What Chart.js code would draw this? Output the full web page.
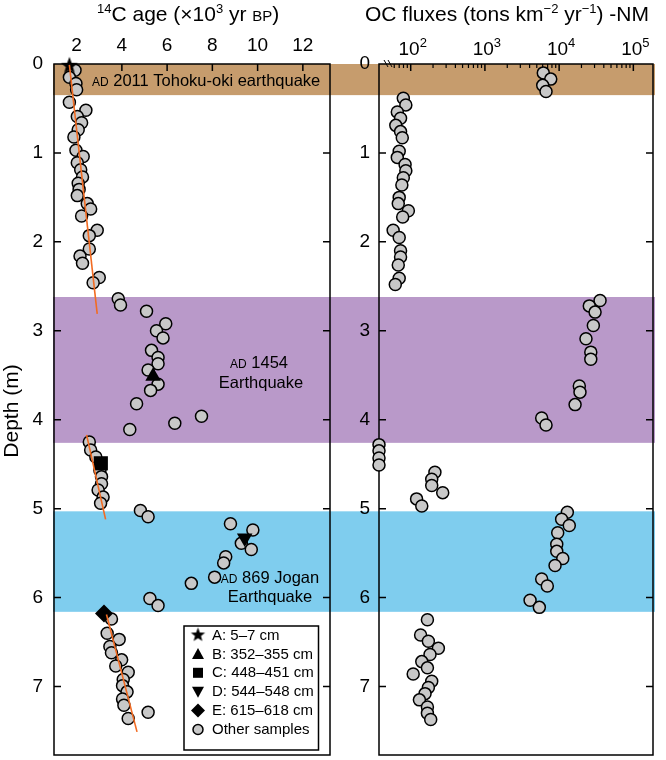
<!DOCTYPE html>
<html>
<head>
<meta charset="utf-8">
<script src="https://cdn.jsdelivr.net/npm/chart.js@4.4.1/dist/chart.umd.min.js"></script>
<style>
  html, body { margin: 0; padding: 0; background: #fff; }
  #wrap { position: relative; width: 666px; height: 760px; }
  #wrap canvas { position: absolute; left: 0; top: 0; }
</style>
</head>
<body>
<div id="wrap">
  <canvas id="ageChart" width="666" height="760"></canvas>
  <canvas id="fluxChart" width="666" height="760"></canvas>
</div>
<script>
// ---- data ----
// left panel: 14C age (x10^3 yr BP) of the other samples vs depth (m)
const ageDepths = [0.07, 0.15, 0.22, 0.29, 0.43, 0.52, 0.59, 0.66, 0.74, 0.82, 0.97, 1.04, 1.11, 1.19, 1.27,
  1.34, 1.41, 1.48, 1.57, 1.63, 1.71, 1.87, 1.93, 2.08, 2.16, 2.24, 2.40, 2.46, 2.64, 2.71, 2.78, 2.92, 3.00,
  3.08, 3.22, 3.30, 3.37, 3.44, 3.60, 3.67, 3.82, 3.96, 4.04, 4.11, 4.25, 4.34, 4.42, 4.57, 4.64, 4.72, 4.79,
  4.87, 4.94, 5.02, 5.09, 5.17, 5.24, 5.39, 5.46, 5.54, 5.61, 5.77, 5.84, 6.01, 6.09, 6.24, 6.40, 6.47, 6.55,
  6.62, 6.70, 6.77, 6.84, 6.92, 6.99, 7.06, 7.14, 7.21, 7.29, 7.36];
const ages = [1.93, 1.68, 1.97, 2.00, 1.68, 2.41, 2.03, 2.22, 2.07, 1.88, 1.97, 2.29, 2.03, 2.18, 2.26,
  2.07, 2.11, 2.03, 2.47, 2.62, 2.22, 2.91, 2.56, 2.56, 2.15, 2.26, 3.00, 2.73, 3.84, 3.94, 5.09, 5.94, 5.53,
  5.82, 5.31, 5.60, 5.60, 5.16, 5.60, 5.27, 4.65, 7.52, 6.34, 4.35, 2.56, 2.62, 2.85, 3.03, 3.10, 3.10, 2.95,
  3.17, 3.06, 4.82, 5.16, 8.80, 9.79, 9.28, 9.72, 8.59, 8.50, 8.10, 7.07, 5.24, 5.60, 3.54, 3.35, 3.88, 3.47,
  3.54, 3.99, 3.73, 4.28, 4.06, 4.03, 4.23, 4.03, 4.09, 5.16, 4.28];

// dated samples A-E
const sampleLabels = ['A: 5\u20137 cm', 'B: 352\u2013355 cm', 'C: 448\u2013451 cm', 'D: 544\u2013548 cm', 'E: 615\u2013618 cm'];
const sampleAges = [1.68, 5.38, 3.07, 9.43, 3.21];
const sampleDepths = [0.02, 3.51, 4.49, 5.33, 6.18];
const otherLabel = 'Other samples';

// orange age-depth trend segments
const trendAges = [[1.68, 2.91], [2.44, 3.28], [3.32, 4.67]];
const trendDepths = [[0.01, 2.81], [4.17, 5.12], [6.19, 7.51]];

// right panel: OC fluxes (tons km-2 yr-1) vs depth (m)
const fluxAxisMin = 37.4;   // samples below the axis range sit on the axis
const fluxDepths = [0.10, 0.17, 0.24, 0.31, 0.385, 0.46, 0.54, 0.61, 0.69, 0.76, 0.83, 0.98, 1.05, 1.13, 1.20,
  1.28, 1.36, 1.50, 1.57, 1.65, 1.72, 1.87, 1.95, 2.10, 2.17, 2.26, 2.41, 2.48, 2.66, 2.72, 2.79, 2.94, 3.09,
  3.24, 3.32, 3.62, 3.69, 3.83, 3.98, 4.06, 4.28, 4.35, 4.43, 4.51, 4.59, 4.67, 4.74, 4.82, 4.89, 4.97, 5.04,
  5.12, 5.19, 5.27, 5.40, 5.48, 5.56, 5.64, 5.79, 5.87, 6.03, 6.11, 6.25, 6.42, 6.49, 6.57, 6.64, 6.72, 6.79,
  6.86, 6.94, 7.01, 7.08, 7.15, 7.23, 7.30, 7.37];
const fluxes = [6120, 7710, 6010, 6660, 79.5, 86, 66, 73, 63, 73, 77, 70, 66, 84, 86,
  79.5, 76, 70, 68, 93, 78, 58, 70, 73, 73, 68, 70, 62, 35600, 25500, 30500, 28900, 23000,
  26700, 26700, 18700, 19100, 16400, 5820, 6660, fluxAxisMin, fluxAxisMin, fluxAxisMin, fluxAxisMin, 212, 192, 192, 270, 120, 141, 12900,
  10800, 13700, 9570, 9290, 9290, 11200, 8810, 5820, 6930, 4060, 5410, 168, 136, 173, 236, 182, 141, 168,
  108, 192, 173, 156, 131, 168, 168, 186];

// earthquake layers (depth, m)
const bandTops = [0, 2.62, 5.03];
const bandBottoms = [0.35, 4.26, 6.16];
const bandColors = ['#c69c6d', '#b999c9', '#7fcdee'];

// ticks
const depthTicks = [0, 1, 2, 3, 4, 5, 6, 7];
const ageTicks = [2, 4, 6, 8, 10, 12];
const fluxMajorTicks = [1e2, 1e3, 1e4, 1e5];
const fluxExponents = ['2', '3', '4', '5'];
const fluxMinorTicks = [60, 70, 80, 90, 200, 300, 400, 500, 600, 700, 800, 900, 2000, 3000, 4000, 5000, 6000,
  7000, 8000, 9000, 20000, 30000, 40000, 50000, 60000, 70000, 80000, 90000];

// ---- helpers ----
const FONT = "'Liberation Sans', Arial, Helvetica, sans-serif";
Chart.defaults.font.family = FONT;
Chart.defaults.color = '#000';

function drawRich(ctx, x, y, segs, align) {
  let total = 0;
  segs.forEach(s => { ctx.font = s[1] + 'px ' + FONT; total += ctx.measureText(s[0]).width; });
  let cx = align === 'center' ? x - total / 2 : x;
  ctx.textAlign = 'left';
  ctx.textBaseline = 'alphabetic';
  segs.forEach(s => {
    ctx.font = s[1] + 'px ' + FONT;
    ctx.fillText(s[0], cx, y - (s[2] || 0));
    cx += ctx.measureText(s[0]).width;
  });
}

function makeStar(r) {
  const c = document.createElement('canvas');
  c.width = c.height = 2 * r + 2;
  const g = c.getContext('2d');
  g.beginPath();
  for (let i = 0; i < 10; i++) {
    const rad = i % 2 ? r * 0.42 : r;
    const ang = -Math.PI / 2 + i * Math.PI / 5;
    g.lineTo(r + 1 + rad * Math.cos(ang), r + 1 + rad * Math.sin(ang));
  }
  g.closePath();
  g.fillStyle = '#000';
  g.fill();
  return c;
}
const starImg = makeStar(9);
const legendStar = makeStar(7.5);

// keep the plot boxes exactly where the figure has them
function fixWidth(w) {
  return s => { s.width = w; s.paddingTop = 0; s.paddingBottom = 0; s.paddingLeft = 0; s.paddingRight = 0; };
}
function fixHeight(h) {
  return s => { s.height = h; s.paddingTop = 0; s.paddingBottom = 0; s.paddingLeft = 0; s.paddingRight = 0; };
}

function drawFrame(chart) {
  const ctx = chart.ctx, a = chart.chartArea;
  ctx.save();
  ctx.strokeStyle = '#000';
  ctx.lineWidth = 1.5;
  ctx.strokeRect(a.left, a.top, a.right - a.left, a.bottom - a.top);
  // inward depth ticks on both sides
  const ys = chart.scales.y;
  ctx.beginPath();
  depthTicks.forEach(v => {
    const py = ys.getPixelForValue(v);
    if (v > 0) {
      ctx.moveTo(a.left, py); ctx.lineTo(a.left + 7, py);
      ctx.moveTo(a.right, py); ctx.lineTo(a.right - 7, py);
    }
  });
  ctx.stroke();
  ctx.restore();
}

const pointStyleOther = {
  pointRadius: 6, pointBackgroundColor: '#c8c8c8', pointBorderColor: '#000', pointBorderWidth: 1.5
};

// ---- left chart: 14C age ----
const ageBackground = {
  id: 'ageBackground',
  beforeDraw(chart) {
    const ctx = chart.ctx, a = chart.chartArea, ys = chart.scales.y;
    ctx.save();
    bandTops.forEach((t, i) => {
      const y0 = ys.getPixelForValue(t), y1 = ys.getPixelForValue(bandBottoms[i]);
      ctx.fillStyle = bandColors[i];
      ctx.fillRect(a.left - 1, y0, 655 - a.left + 1, y1 - y0);
    });
    // titles
    ctx.fillStyle = '#000';
    drawRich(ctx, 97, 21, [['14', 13, 8], ['C age (\u00d710', 21], ['3', 13, 8], [' yr ', 21], ['BP', 15], [')', 21]]);
    drawRich(ctx, 365, 21, [['OC fluxes (tons km', 21], ['\u22122', 13, 8], [' yr', 21], ['\u22121', 13, 8], [') -NM', 21]]);
    ctx.save();
    ctx.translate(18, 411);
    ctx.rotate(-Math.PI / 2);
    ctx.font = '21px ' + FONT;
    ctx.textAlign = 'center';
    ctx.textBaseline = 'alphabetic';
    ctx.fillText('Depth (m)', 0, 0);
    ctx.restore();
    ctx.restore();
  },
  beforeDatasetsDraw(chart) {
    const ctx = chart.ctx, a = chart.chartArea, xs = chart.scales.x;
    drawFrame(chart);
    ctx.save();
    ctx.strokeStyle = '#000';
    ctx.lineWidth = 1.5;
    ctx.beginPath();
    ageTicks.forEach(v => {
      const px = xs.getPixelForValue(v);
      ctx.moveTo(px, a.top); ctx.lineTo(px, a.top + 7);
    });
    ctx.stroke();
    // layer annotations
    ctx.fillStyle = '#000';
    drawRich(ctx, 92, 86, [['AD', 12], [' 2011 Tohoku-oki earthquake', 16.5]]);
    drawRich(ctx, 259, 368, [['AD', 12], [' 1454', 16.5]], 'center');
    drawRich(ctx, 261, 387.5, [['Earthquake', 16.5]], 'center');
    drawRich(ctx, 270, 582.5, [['AD', 12], [' 869 Jogan', 16.5]], 'center');
    drawRich(ctx, 270, 601.5, [['Earthquake', 16.5]], 'center');
    ctx.restore();
  },
  afterDatasetsDraw(chart) {
    // legend box
    const ctx = chart.ctx;
    const bx = 184, by = 626, bw = 134.5, bh = 124;
    ctx.save();
    ctx.fillStyle = '#fff';
    ctx.fillRect(bx, by, bw, bh);
    ctx.strokeStyle = '#000';
    ctx.lineWidth = 1.5;
    ctx.strokeRect(bx, by, bw, bh);
    const labels = sampleLabels.concat([otherLabel]);
    ctx.font = '15px ' + FONT;
    ctx.textBaseline = 'middle';
    labels.forEach((lab, i) => {
      const y = 635 + i * 18.9, x = 198;
      ctx.fillStyle = '#000';
      ctx.beginPath();
      if (i === 0) {
        ctx.drawImage(legendStar, x - legendStar.width / 2, y - legendStar.height / 2);
      } else if (i === 1) {
        ctx.moveTo(x, y - 6); ctx.lineTo(x + 6, y + 5); ctx.lineTo(x - 6, y + 5); ctx.closePath(); ctx.fill();
      } else if (i === 2) {
        ctx.fillRect(x - 5, y - 5, 10, 10);
      } else if (i === 3) {
        ctx.moveTo(x - 6, y - 5); ctx.lineTo(x + 6, y - 5); ctx.lineTo(x, y + 6); ctx.closePath(); ctx.fill();
      } else if (i === 4) {
        ctx.moveTo(x, y - 7); ctx.lineTo(x + 7, y); ctx.lineTo(x, y + 7); ctx.lineTo(x - 7, y); ctx.closePath(); ctx.fill();
      } else {
        ctx.arc(x, y, 5, 0, Math.PI * 2);
        ctx.fillStyle = '#c8c8c8'; ctx.fill();
        ctx.lineWidth = 1.5; ctx.stroke();
      }
      ctx.fillStyle = '#000';
      ctx.textAlign = 'left';
      ctx.fillText(lab, 212, y + 0.5);
    });
    ctx.restore();
  }
};

const sampleStyles = [
  { pointStyle: starImg, pointRadius: 9 },
  { pointStyle: 'triangle', pointRadius: 9 },
  { pointStyle: 'rect', pointRadius: 10 },
  { pointStyle: 'triangle', pointRadius: 9, pointRotation: 180 },
  { pointStyle: 'rectRot', pointRadius: 9 }
];

const ageDatasets = [];
trendAges.forEach((xs, i) => {
  ageDatasets.push({
    type: 'line',
    data: xs.map((x, j) => ({ x: x, y: trendDepths[i][j] })),
    borderColor: '#f26b22', borderWidth: 1.6, pointRadius: 0, showLine: true, fill: false,
    clip: false, order: 0
  });
});
ageDatasets.push(Object.assign({
  label: otherLabel,
  data: ages.map((a, i) => ({ x: a, y: ageDepths[i] })),
  clip: false, order: 2
}, pointStyleOther));
sampleLabels.forEach((lab, i) => {
  ageDatasets.push(Object.assign({
    label: lab,
    data: [{ x: sampleAges[i], y: sampleDepths[i] }],
    pointBackgroundColor: '#000', pointBorderColor: '#000', pointBorderWidth: 0,
    clip: false, order: 1
  }, sampleStyles[i]));
});

new Chart(document.getElementById('ageChart'), {
  type: 'scatter',
  data: { datasets: ageDatasets },
  options: {
    responsive: false,
    animation: false,
    events: [],
    layout: { autoPadding: false, padding: { left: 0, top: 0, right: 336, bottom: 5 } },
    plugins: { legend: { display: false }, tooltip: { enabled: false } },
    scales: {
      x: {
        type: 'linear', position: 'top', min: 1.0, max: 13.2,
        afterFit: fixHeight(64),
        afterBuildTicks: s => { s.ticks = ageTicks.map(v => ({ value: v })); },
        ticks: { padding: 7, font: { size: 19 }, maxRotation: 0, autoSkip: false },
        grid: { display: false, drawTicks: false },
        border: { display: false }
      },
      y: {
        type: 'linear', reverse: true, min: 0, max: 7.77,
        afterFit: fixWidth(54),
        afterBuildTicks: s => { s.ticks = depthTicks.map(v => ({ value: v })); },
        ticks: { padding: 11, font: { size: 19 }, autoSkip: false },
        grid: { display: false, drawTicks: false },
        border: { display: false }
      }
    }
  },
  plugins: [ageBackground]
});

// ---- right chart: OC fluxes ----
const fluxAxes = {
  id: 'fluxAxes',
  beforeDatasetsDraw(chart) {
    const ctx = chart.ctx, a = chart.chartArea, xs = chart.scales.x;
    drawFrame(chart);
    ctx.save();
    ctx.strokeStyle = '#000';
    ctx.lineWidth = 1.5;
    ctx.beginPath();
    fluxMajorTicks.forEach(v => {
      const px = xs.getPixelForValue(v);
      ctx.moveTo(px, a.top); ctx.lineTo(px, a.top + 7);
    });
    ctx.stroke();
    ctx.lineWidth = 1.2;
    ctx.beginPath();
    fluxMinorTicks.forEach(v => {
      const px = xs.getPixelForValue(v);
      ctx.moveTo(px, a.top); ctx.lineTo(px, a.top + 4);
    });
    ctx.stroke();
    // axis break marks
    ctx.lineWidth = 1;
    ctx.beginPath();
    ctx.moveTo(a.left + 5, a.top - 4); ctx.lineTo(a.left + 9, a.top + 3);
    ctx.moveTo(a.left + 9, a.top - 4); ctx.lineTo(a.left + 13, a.top + 3);
    ctx.stroke();
    // tick labels 10^n
    ctx.fillStyle = '#000';
    fluxMajorTicks.forEach((v, i) => {
      drawRich(ctx, xs.getPixelForValue(v) + 2, 55, [['10', 19], [fluxExponents[i], 13, 8]], 'center');
    });
    ctx.restore();
  }
};

new Chart(document.getElementById('fluxChart'), {
  type: 'scatter',
  data: {
    datasets: [Object.assign({
      label: otherLabel,
      data: fluxes.map((f, i) => ({ x: f, y: fluxDepths[i] })),
      clip: false
    }, pointStyleOther)]
  },
  options: {
    responsive: false,
    animation: false,
    events: [],
    layout: { autoPadding: false, padding: { left: 330, top: 0, right: 13, bottom: 5 } },
    plugins: { legend: { display: false }, tooltip: { enabled: false } },
    scales: {
      x: {
        type: 'logarithmic', position: 'top', min: fluxAxisMin, max: 184000,
        afterFit: fixHeight(64),
        ticks: { display: false },
        grid: { display: false, drawTicks: false },
        border: { display: false }
      },
      y: {
        type: 'linear', reverse: true, min: 0, max: 7.77,
        afterFit: fixWidth(49),
        afterBuildTicks: s => { s.ticks = depthTicks.map(v => ({ value: v })); },
        ticks: { padding: 9, font: { size: 19 }, autoSkip: false },
        grid: { display: false, drawTicks: false },
        border: { display: false }
      }
    }
  },
  plugins: [fluxAxes]
});
</script>
</body>
</html>
